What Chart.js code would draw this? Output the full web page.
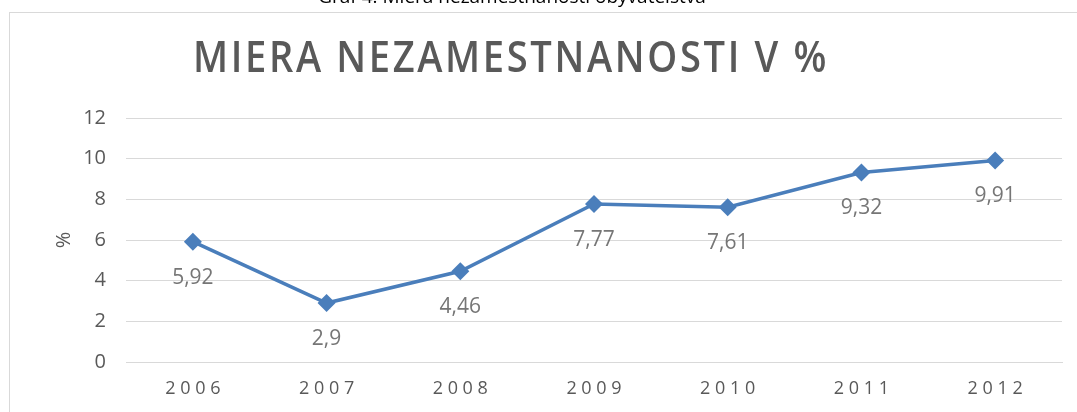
<!DOCTYPE html>
<html>
<head>
<meta charset="utf-8">
<script src="https://cdn.jsdelivr.net/npm/chart.js@4/dist/chart.umd.min.js"></script>
<style>
  html, body { margin: 0; padding: 0; background: #fff; }
  #wrap { position: relative; width: 1077px; height: 412px; overflow: hidden; }
</style>
</head>
<body>
<div id="wrap"><canvas id="rateChart" width="1077" height="412"></canvas></div>
<script>
const years = ['2006', '2007', '2008', '2009', '2010', '2011', '2012'];
const unemployment = [5.92, 2.9, 4.46, 7.77, 7.61, 9.32, 9.91];
const yTicks = [0, 2, 4, 6, 8, 10, 12];

const captionText = 'Graf 4: Miera nezamestnanosti obyvateľstva';
const titleText = 'MIERA NEZAMESTNANOSTI V %';

const lineColor = '#4a7ebb';
const textGray = '#595959';

// frame, caption, title and value labels
const decorPlugin = {
    id: 'decor',
    beforeDraw(chart) {
        const ctx = chart.ctx;
        ctx.save();
        ctx.strokeStyle = '#d9d9d9';
        ctx.lineWidth = 1;
        ctx.strokeRect(9.5, 12.5, 1200, 600);

        ctx.fillStyle = '#000';
        ctx.font = '19px "Open Sans"';
        ctx.textAlign = 'center';
        ctx.textBaseline = 'alphabetic';
        ctx.fillText(captionText, 512, 3);

        ctx.fillStyle = textGray;
        ctx.font = '600 43px "Open Sans"';
        ctx.letterSpacing = '3px';
        const w = ctx.measureText(titleText).width;
        const targetW = 636;
        ctx.translate(511, 60);
        ctx.scale(targetW / w, 1);
        ctx.textBaseline = 'middle';
        ctx.fillText(titleText, 0, 0);
        ctx.restore();
    },
    afterDatasetsDraw(chart) {
        const ctx = chart.ctx;
        const meta = chart.getDatasetMeta(0);
        ctx.save();
        ctx.fillStyle = '#767676';
        ctx.font = '21px "Open Sans"';
        ctx.textAlign = 'center';
        ctx.textBaseline = 'middle';
        meta.data.forEach((pt, i) => {
            const label = String(unemployment[i]).replace('.', ',');
            ctx.fillText(label, pt.x, pt.y + 36);
        });
        ctx.restore();
    }
};

const chart = new Chart(document.getElementById('rateChart'), {
    type: 'line',
    data: {
        labels: years,
        datasets: [{
            data: unemployment,
            borderColor: lineColor,
            backgroundColor: lineColor,
            borderWidth: 3.5,
            pointStyle: 'rectRot',
            pointRadius: 9,
            pointBorderWidth: 0,
            tension: 0
        }]
    },
    options: {
        responsive: false,
        animation: false,
        devicePixelRatio: 1,
        layout: {
            padding: { left: 52, right: 15, top: 118, bottom: 0 }
        },
        plugins: {
            legend: { display: false },
            tooltip: { enabled: false }
        },
        scales: {
            x: {
                offset: true,
                grid: { display: false, drawTicks: false },
                border: { color: '#d9d9d9' },
                ticks: {
                    padding: 16,
                    color: textGray,
                    font: { family: 'Open Sans', size: 18 },
                    callback: function (v, i) { return years[i].split('').join(' '); }
                },
                afterFit(scale) { scale.height = 50; }
            },
            y: {
                min: 0,
                max: 12,
                afterBuildTicks(scale) { scale.ticks = yTicks.map(v => ({ value: v })); },
                grid: { color: '#d9d9d9', drawTicks: false },
                border: { display: false },
                ticks: {
                    padding: 20,
                    color: textGray,
                    font: { family: 'Open Sans', size: 20 }
                },
                title: {
                    display: true,
                    text: '%',
                    color: textGray,
                    font: { family: 'Open Sans', size: 20 },
                    padding: { top: 0, bottom: 0 }
                },
                afterFit(scale) { scale.width = 74; }
            }
        }
    },
    plugins: [decorPlugin]
});
</script>
</body>
</html>
